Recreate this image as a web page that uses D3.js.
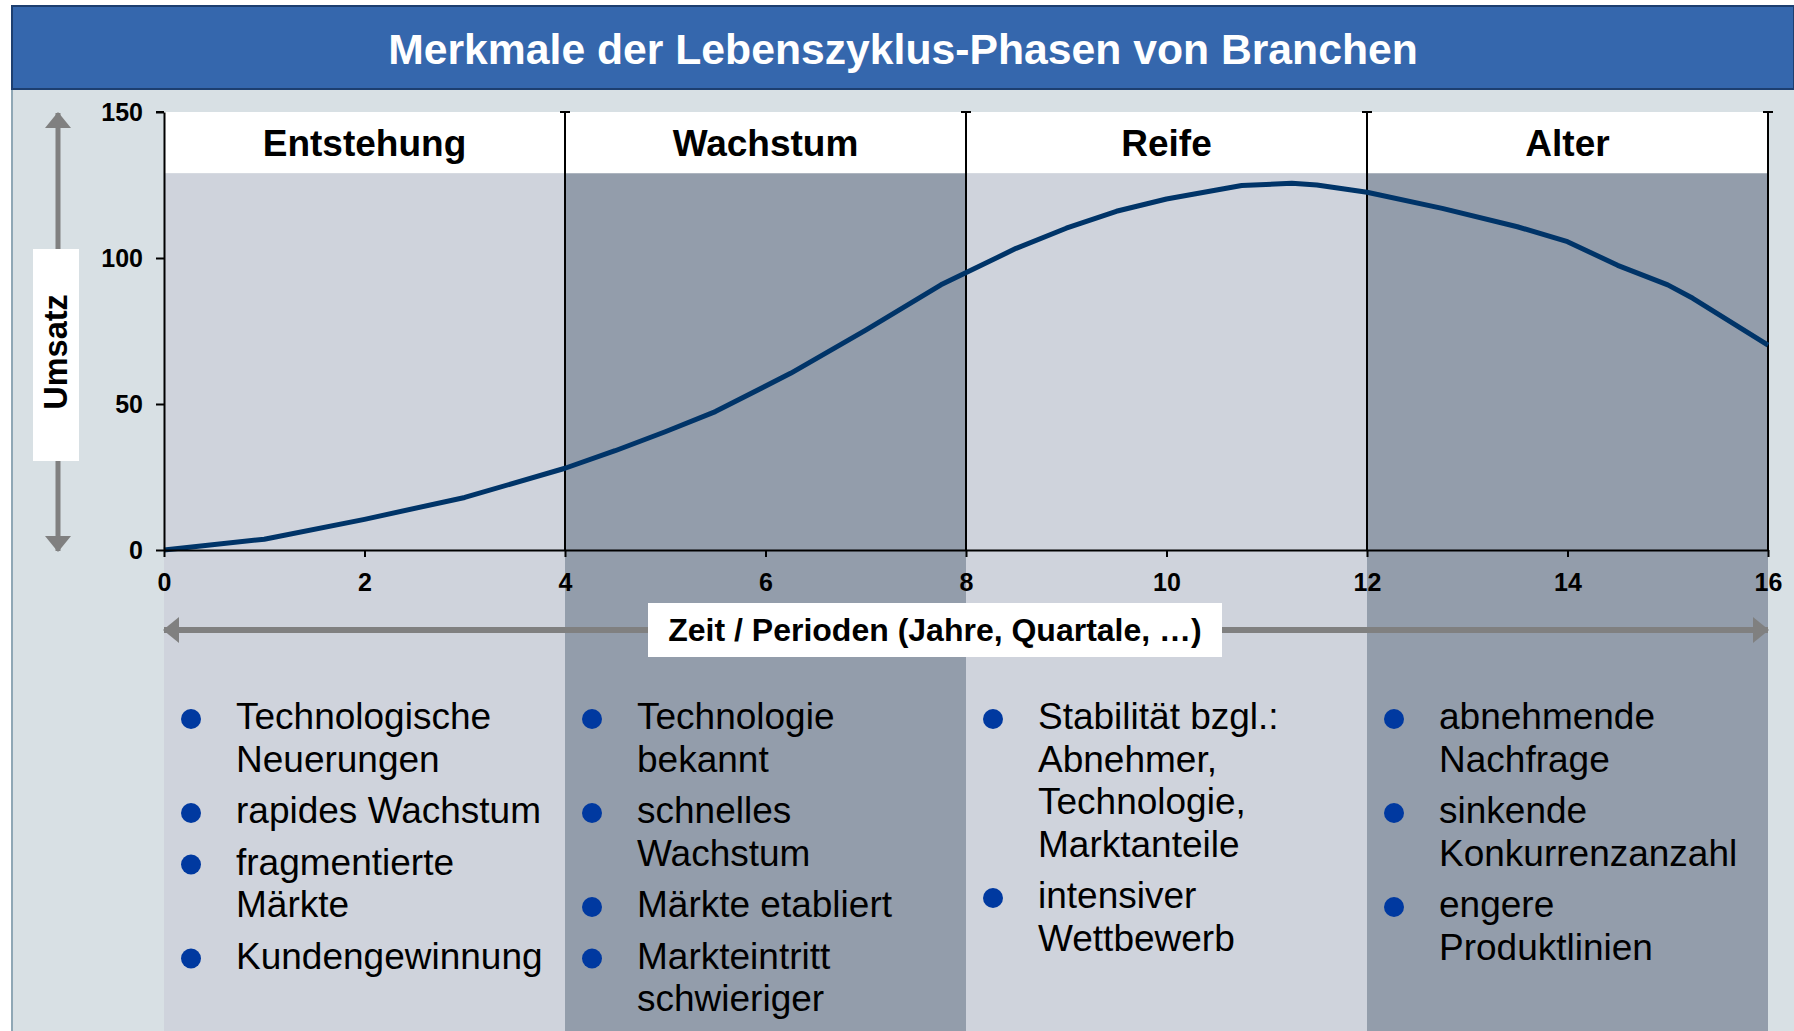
<!DOCTYPE html>
<html>
<head>
<meta charset="utf-8">
<script src="https://cdn.jsdelivr.net/npm/d3@7"></script>
<style>
  body { margin: 0; background: #ffffff; }
  svg { display: block; font-family: "Liberation Sans", Arial, Helvetica, sans-serif; }
</style>
</head>
<body>
<div id="chart"></div>
<script>
// ---- data ----
const title = "Merkmale der Lebenszyklus-Phasen von Branchen";
const phaseNames = ["Entstehung", "Wachstum", "Reife", "Alter"];
const phaseBounds = [0, 4, 8, 12, 16];
const yTicks = [0, 50, 100, 150];
const xTicks = [0, 2, 4, 6, 8, 10, 12, 14, 16];
const yLabel = "Umsatz";
const xLabel = "Zeit / Perioden (Jahre, Quartale, …)";

// Umsatz curve
const period = [0, 1, 2, 3, 4, 4.5, 5, 5.5, 6.25, 7, 7.75, 8.5, 9, 9.5, 10, 10.75, 11.25, 11.5, 12, 12.75, 13.5, 14, 14.5, 15, 15.25, 16];
const umsatz = [0, 3.7, 10.5, 18, 28, 34, 40.5, 47.4, 60.5, 75.3, 90.8, 103.3, 110.2, 116, 120.2, 124.8, 125.6, 125, 122.5, 117, 110.7, 105.6, 97.5, 90.8, 86.2, 70.2];

// bullet points per phase (each item may wrap to several lines)
const bulletsEntstehung = [["Technologische", "Neuerungen"], ["rapides Wachstum"], ["fragmentierte", "Märkte"], ["Kundengewinnung"]];
const bulletsWachstum = [["Technologie", "bekannt"], ["schnelles", "Wachstum"], ["Märkte etabliert"], ["Markteintritt", "schwieriger"]];
const bulletsReife = [["Stabilität bzgl.:", "Abnehmer,", "Technologie,", "Marktanteile"], ["intensiver", "Wettbewerb"]];
const bulletsAlter = [["abnehmende", "Nachfrage"], ["sinkende", "Konkurrenzanzahl"], ["engere", "Produktlinien"]];
const bullets = [bulletsEntstehung, bulletsWachstum, bulletsReife, bulletsAlter];

// ---- layout ----
const W = 1794, H = 1031;
const shadeTop = 129;           // value where the white header band ends
const phaseFill = ["#cfd3dc", "#939dab", "#cfd3dc", "#939dab"];

const svg = d3.select("#chart").append("svg")
    .attr("width", W)
    .attr("height", H);

const x = d3.scaleLinear().domain([0, 16]).range([164, 1768]);
const y = d3.scaleLinear().domain([0, 150]).range([550, 112]);

// background panel
svg.append("rect")
    .attr("x", 11).attr("y", 6)
    .attr("width", W - 11).attr("height", H - 6)
    .attr("fill", "#d8e0e4");
svg.append("line")
    .attr("x1", 12).attr("x2", 12).attr("y1", 6).attr("y2", H)
    .attr("stroke", "#8fa7b5").attr("stroke-width", 2);

// title bar
svg.append("rect")
    .attr("x", 12).attr("y", 6)
    .attr("width", W - 12).attr("height", 83)
    .attr("fill", "#3567ad")
    .attr("stroke", "#1d3f70").attr("stroke-width", 2);
svg.append("text")
    .attr("x", (12 + W) / 2).attr("y", 64)
    .attr("text-anchor", "middle")
    .attr("fill", "#ffffff")
    .attr("font-weight", "bold")
    .attr("font-size", 42.7)
    .text(title);

// phase columns (shaded from header band down to the bottom)
const phases = phaseNames.map((name, i) => ({
    name: name,
    x0: phaseBounds[i],
    x1: phaseBounds[i + 1],
    fill: phaseFill[i],
    items: bullets[i]
}));

svg.append("rect")
    .attr("x", x(0)).attr("y", y(150))
    .attr("width", x(16) - x(0)).attr("height", y(shadeTop) - y(150))
    .attr("fill", "#ffffff");

svg.selectAll("rect.phase")
    .data(phases)
    .enter()
    .append("rect")
    .attr("class", "phase")
    .attr("x", d => x(d.x0))
    .attr("y", y(shadeTop))
    .attr("width", d => x(d.x1) - x(d.x0))
    .attr("height", H - y(shadeTop))
    .attr("fill", d => d.fill);

svg.selectAll("text.phase")
    .data(phases)
    .enter()
    .append("text")
    .attr("class", "phase")
    .attr("x", d => (x(d.x0) + x(d.x1)) / 2)
    .attr("y", 156)
    .attr("text-anchor", "middle")
    .attr("font-weight", "bold")
    .attr("font-size", 37)
    .attr("fill", "#000")
    .text(d => d.name);

// phase divider lines with little caps at the top
svg.selectAll("line.divider")
    .data(phaseBounds.slice(1))
    .enter()
    .append("line")
    .attr("class", "divider")
    .attr("x1", d => x(d)).attr("x2", d => x(d))
    .attr("y1", y(150)).attr("y2", y(0))
    .attr("stroke", "#000").attr("stroke-width", 2);
svg.selectAll("line.cap")
    .data(phaseBounds.slice(1))
    .enter()
    .append("line")
    .attr("class", "cap")
    .attr("x1", d => x(d) - 5).attr("x2", d => x(d) + 5)
    .attr("y1", y(150)).attr("y2", y(150))
    .attr("stroke", "#000").attr("stroke-width", 2);

// curve
const curve = period.map((p, i) => ({ t: p, v: umsatz[i] }));
svg.append("path")
    .datum(curve)
    .attr("fill", "none")
    .attr("stroke", "#003468")
    .attr("stroke-width", 5)
    .attr("stroke-linejoin", "round")
    .attr("d", d3.line().x(d => x(d.t)).y(d => y(d.v)));

// axes
const yAxis = svg.append("g")
    .attr("transform", `translate(${x(0)},0)`)
    .call(d3.axisLeft(y).tickValues(yTicks).tickSize(8).tickSizeOuter(0).tickPadding(13));
const xAxis = svg.append("g")
    .attr("transform", `translate(0,${y(0)})`)
    .call(d3.axisBottom(x).tickValues(xTicks).tickSize(7).tickSizeOuter(0).tickPadding(16));

[yAxis, xAxis].forEach(g => {
    g.select(".domain").attr("stroke", "#000").attr("stroke-width", 2);
    g.selectAll(".tick line").attr("stroke", "#000").attr("stroke-width", 2);
    g.selectAll(".tick text")
        .attr("fill", "#000")
        .attr("font-family", "Liberation Sans, Arial, sans-serif")
        .attr("font-weight", "bold")
        .attr("font-size", 25);
});
// cap at the top of the y axis
svg.append("line")
    .attr("x1", x(0) - 8).attr("x2", x(0))
    .attr("y1", y(150)).attr("y2", y(150))
    .attr("stroke", "#000").attr("stroke-width", 2);

// arrow marker
const defs = svg.append("defs");
defs.append("marker")
    .attr("id", "head")
    .attr("viewBox", "0 0 16 26")
    .attr("refX", 15).attr("refY", 13)
    .attr("markerWidth", 16).attr("markerHeight", 26)
    .attr("markerUnits", "userSpaceOnUse")
    .attr("orient", "auto-start-reverse")
    .append("path")
    .attr("d", "M0,0 L16,13 L0,26 Z")
    .attr("fill", "#808080");

// vertical Umsatz arrow
svg.append("line")
    .attr("x1", 58).attr("x2", 58)
    .attr("y1", y(150) + 1).attr("y2", y(0) + 1)
    .attr("stroke", "#808080").attr("stroke-width", 5)
    .attr("marker-start", "url(#head)")
    .attr("marker-end", "url(#head)");
svg.append("rect")
    .attr("x", 33).attr("y", 249)
    .attr("width", 46).attr("height", 212)
    .attr("fill", "#ffffff");
svg.append("text")
    .attr("transform", "translate(56,352) rotate(-90)")
    .attr("text-anchor", "middle")
    .attr("dominant-baseline", "central")
    .attr("font-weight", "bold")
    .attr("font-size", 32.5)
    .text(yLabel);

// horizontal Zeit arrow
svg.append("line")
    .attr("x1", x(0)).attr("x2", x(16))
    .attr("y1", 630).attr("y2", 630)
    .attr("stroke", "#808080").attr("stroke-width", 6)
    .attr("marker-start", "url(#head)")
    .attr("marker-end", "url(#head)");
svg.append("rect")
    .attr("x", 648).attr("y", 603)
    .attr("width", 574).attr("height", 54)
    .attr("fill", "#ffffff");
svg.append("text")
    .attr("x", 935).attr("y", 641)
    .attr("text-anchor", "middle")
    .attr("font-weight", "bold")
    .attr("font-size", 32)
    .text(xLabel);

// bullet lists
const lineH = 42.5, itemGap = 9, firstBase = 729;
phases.forEach(ph => {
    const g = svg.append("g").attr("transform", `translate(${x(ph.x0)},0)`);
    let base = firstBase;
    ph.items.forEach(item => {
        g.append("circle")
            .attr("cx", 27).attr("cy", base - 10)
            .attr("r", 10)
            .attr("fill", "#0039a0");
        item.forEach((ln, j) => {
            g.append("text")
                .attr("x", 72).attr("y", base + j * lineH)
                .attr("font-size", 37)
                .attr("fill", "#000")
                .text(ln);
        });
        base += item.length * lineH + itemGap;
    });
});
</script>
</body>
</html>
